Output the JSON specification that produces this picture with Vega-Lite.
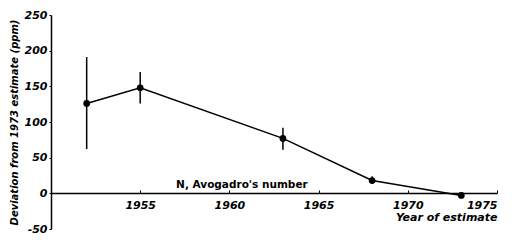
{
  "$schema": "https://vega.github.io/schema/vega-lite/v6.json",
  "width": 446,
  "height": 214,
  "autosize": {"type": "none"},
  "padding": {"left": 51, "top": 15, "right": 33, "bottom": 18},
  "background": "white",
  "config": {
    "view": {"stroke": null},
    "axis": {
      "labelFont": "DejaVu Sans",
      "labelFontWeight": "bold",
      "labelFontStyle": "italic",
      "labelFontSize": 11,
      "labelColor": "black",
      "labelOverlap": false,
      "titleFont": "DejaVu Sans",
      "titleFontWeight": "bold",
      "titleFontStyle": "italic",
      "titleFontSize": 10,
      "titleColor": "black",
      "domainColor": "black",
      "domainWidth": 1.5,
      "tickColor": "black",
      "grid": false
    },
    "axisY": {"labelOverlap": false},
    "axisQuantitative": {"labelOverlap": false}
  },
  "datasets": {
    "estimates": [
      {"year": 1952, "dev": 126, "lo": 62, "hi": 191},
      {"year": 1955, "dev": 148, "lo": 126, "hi": 170},
      {"year": 1963, "dev": 77, "lo": 61, "hi": 92},
      {"year": 1968, "dev": 18, "lo": 13, "hi": 24},
      {"year": 1973, "dev": -3, "lo": -3, "hi": -3}
    ],
    "notes": [
      {"year": 1960.7, "dev": 12, "label": "N, Avogadro's number"}
    ]
  },
  "data": {"name": "estimates"},
  "encoding": {
    "x": {
      "field": "year", "type": "quantitative",
      "scale": {"domain": [1950, 1975], "nice": false, "zero": false},
      "axis": {
        "values": [1955, 1960, 1965, 1970, 1975],
        "format": "d",
        "offset": -36,
        "tickSize": -3,
        "labelPadding": 9,
        "title": "Year of estimate",
        "titleAnchor": "end",
        "titleAlign": "right",
        "titlePadding": 1,
        "titleFontSize": 11
      }
    },
    "y": {
      "field": "dev", "type": "quantitative",
      "scale": {"domain": [-50, 250], "nice": false, "zero": false},
      "axis": {
        "values": [-50, 0, 50, 100, 150, 200, 250],
        "labelExpr": "'' + datum.value",
        "labelOverlap": false,
        "tickSize": 2,
        "labelPadding": 2,
        "title": "Deviation from 1973 estimate (ppm)",
        "titlePadding": 5
      }
    }
  },
  "layer": [
    {
      "mark": {"type": "rule", "color": "black", "strokeWidth": 1.5},
      "encoding": {
        "y": {"field": "lo", "type": "quantitative"},
        "y2": {"field": "hi"}
      }
    },
    {
      "mark": {"type": "line", "color": "black", "strokeWidth": 1.5}
    },
    {
      "mark": {"type": "point", "filled": true, "color": "black", "size": 45, "opacity": 1}
    },
    {
      "data": {"name": "notes"},
      "mark": {"type": "text", "font": "DejaVu Sans", "fontWeight": "bold", "fontSize": 10.5, "color": "black", "align": "center", "baseline": "middle"},
      "encoding": {
        "text": {"field": "label"}
      }
    }
  ]
}
